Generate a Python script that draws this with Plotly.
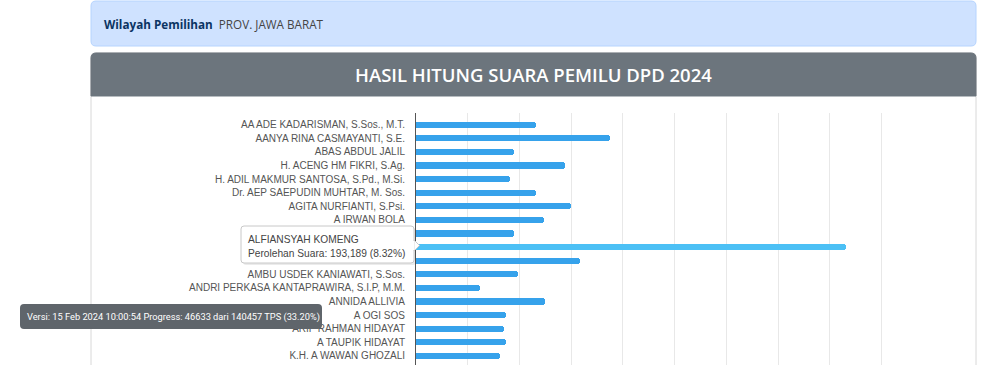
import plotly.graph_objects as go

W, H = 1000, 365

candidates = [
    "AA ADE KADARISMAN, S.Sos., M.T.",
    "AANYA RINA CASMAYANTI, S.E.",
    "ABAS ABDUL JALIL",
    "H. ACENG HM FIKRI, S.Ag.",
    "H. ADIL MAKMUR SANTOSA, S.Pd., M.Si.",
    "Dr. AEP SAEPUDIN MUHTAR, M. Sos.",
    "AGITA NURFIANTI, S.Psi.",
    "A IRWAN BOLA",
    "AJI SUBAGJA",
    "ALFIANSYAH KOMENG",
    "H. AMANG SYAFRUDIN",
    "AMBU USDEK KANIAWATI, S.Sos.",
    "ANDRI PERKASA KANTAPRAWIRA, S.I.P, M.M.",
    "ANNIDA ALLIVIA",
    "A OGI SOS",
    "ARIF RAHMAN HIDAYAT",
    "A TAUPIK HIDAYAT",
    "K.H. A WAWAN GHOZALI",
]
percent = [2.31, 3.74, 1.89, 2.88, 1.81, 2.31, 3.00, 2.48, 1.90, 8.32,
           3.17, 1.97, 1.23, 2.49, 1.74, 1.71, 1.74, 1.63]
hovered_index = 9
hovered_votes = 193189
# labels covered by the hover tooltip in the screenshot
covered_labels = [8, 9, 10]
region = "PROV. JAWA BARAT"
title = "HASIL HITUNG SUARA PEMILU DPD 2024"
version_text = "Versi: 15 Feb 2024 10:00:54 Progress: 46633 dari 140457 TPS (33.20%)"

BLUE = "#36a2eb"
BLUE_HOVER = "#4cc0f5"


def px(x):
    return x / W


def py(y):
    return 1 - y / H


def P(x, y):
    return f"{px(x):.5f},{py(y):.5f}"


def rrect(x0, y0, x1, y1, r, top_only=False):
    rb = 0 if top_only else r
    return (f"M{P(x0 + r, y0)} L{P(x1 - r, y0)} Q{P(x1, y0)} {P(x1, y0 + r)} "
            f"L{P(x1, y1 - rb)} Q{P(x1, y1)} {P(x1 - rb, y1)} "
            f"L{P(x0 + rb, y1)} Q{P(x0, y1)} {P(x0, y1 - rb)} "
            f"L{P(x0, y0 + r)} Q{P(x0, y0)} {P(x0 + r, y0)} Z")


colors = [BLUE_HOVER if i == hovered_index else BLUE for i in range(len(candidates))]
ypos = list(range(len(candidates)))
ticktext = ["" if i in covered_labels else c for i, c in enumerate(candidates)]

fig = go.Figure()
fig.add_trace(go.Bar(
    x=percent, y=ypos, orientation="h",
    marker=dict(color=colors, line=dict(width=0), cornerradius=3),
    width=0.46, hoverinfo="skip",
))

# plot area geometry (pixels)
PL, PT, PB = 416, 113, 365
unit = 51.74  # px per 1%
XMAX = 9.04
PR = PL + XMAX * unit
row0, rowstep = 124.7, 13.6

fig.update_layout(
    width=W, height=H,
    margin=dict(l=0, r=0, t=0, b=0, pad=0),
    paper_bgcolor="white", plot_bgcolor="white",
    showlegend=False, bargap=0,
    xaxis=dict(domain=[px(PL), px(PR)], range=[0, XMAX], dtick=1, tick0=0,
               showticklabels=False, showgrid=True,
               gridcolor="rgba(0,0,0,0.09)", gridwidth=1, zeroline=False,
               showline=False, ticks=""),
    yaxis=dict(domain=[0, py(PT)],
               range=[(PB - row0) / rowstep, -(row0 - PT) / rowstep],
               tickvals=ypos, ticktext=ticktext, showgrid=False,
               zeroline=False, showline=True, linecolor="#555", linewidth=1,
               ticks="", ticklabelstandoff=8,
               tickfont=dict(family="Liberation Sans, Arial", size=10, color="#555")),
    font=dict(family="Open Sans"),
)

shapes = []
# alert box
shapes.append(dict(type="path", xref="paper", yref="paper", layer="below",
                   path=rrect(91, 1, 976, 46, 5), fillcolor="#cfe2ff",
                   line=dict(color="#b6d4fe", width=1)))
# card body border
shapes.append(dict(type="path", xref="paper", yref="paper", layer="below",
                   path=rrect(91, 53, 976, 420, 5), fillcolor="rgba(0,0,0,0)",
                   line=dict(color="#d8d8d8", width=1)))
# card header
shapes.append(dict(type="path", xref="paper", yref="paper", layer="below",
                   path=rrect(91, 53, 976, 96, 5, top_only=True), fillcolor="#6c757d",
                   line=dict(color="#6c757d", width=1)))
# hover tooltip shadow + box + arrow
shapes.append(dict(type="path", xref="paper", yref="paper", layer="above",
                   path=rrect(243, 228, 416, 265, 3), fillcolor="rgba(0,0,0,0.08)",
                   line=dict(width=0)))
shapes.append(dict(type="path", xref="paper", yref="paper", layer="above",
                   path=rrect(241, 226, 414, 263, 3), fillcolor="white",
                   line=dict(color="#c8c8c8", width=1)))
shapes.append(dict(type="path", xref="paper", yref="paper", layer="above",
                   path=f"M{P(414, 240)} L{P(419.5, 245.5)} L{P(414, 251)} Z",
                   fillcolor="white", line=dict(color="#c8c8c8", width=1)))
shapes.append(dict(type="line", xref="paper", yref="paper", layer="above",
                   x0=px(413.6), x1=px(413.6), y0=py(240.8), y1=py(250.2),
                   line=dict(color="white", width=1.5)))
# version tooltip
shapes.append(dict(type="path", xref="paper", yref="paper", layer="above",
                   path=rrect(20, 304, 322, 329, 4), fillcolor="#5f656b",
                   line=dict(width=0)))

annotations = [
    dict(xref="paper", yref="paper", x=px(102), y=py(24), xanchor="left", yanchor="middle",
         showarrow=False,
         text=f"<b><span style='color:#0b3463'>Wilayah Pemilihan</span></b>  "
              f"<span style='color:#444'>{region}</span>",
         font=dict(family="Open Sans", size=11.7)),
    dict(xref="paper", yref="paper", x=px(533.5), y=py(74), xanchor="center", yanchor="middle",
         showarrow=False, text=title,
         font=dict(family="Open Sans", size=18.5, color="white", weight=600)),
    dict(xref="paper", yref="paper", x=px(246), y=py(239.5), xanchor="left", yanchor="middle",
         showarrow=False, text=candidates[hovered_index],
         font=dict(family="Liberation Sans, Arial", size=10.2, color="#444")),
    dict(xref="paper", yref="paper", x=px(246), y=py(253.5), xanchor="left", yanchor="middle",
         showarrow=False,
         text=f"Perolehan Suara: {hovered_votes:,} ({percent[hovered_index]:.2f}%)",
         font=dict(family="Liberation Sans, Arial", size=10.2, color="#444")),
    dict(xref="paper", yref="paper", x=px(25), y=py(316.5), xanchor="left", yanchor="middle",
         showarrow=False, text=version_text,
         font=dict(family="Roboto", size=9.25, color="white")),
]

fig.update_layout(shapes=shapes, annotations=annotations)
fig.write_html("out.html")
